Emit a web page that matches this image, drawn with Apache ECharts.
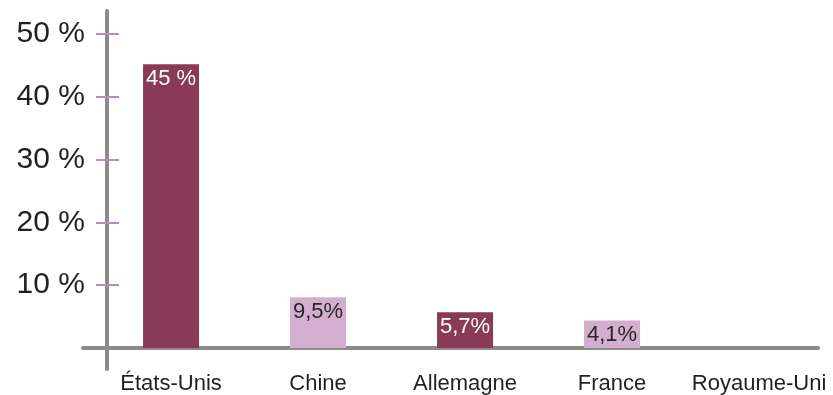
<!DOCTYPE html>
<html>
<head>
<meta charset="utf-8">
<script src="https://cdn.jsdelivr.net/npm/echarts@6/dist/echarts.min.js"></script>
<style>html,body{margin:0;padding:0;background:#fff;}#c{width:833px;height:395px;}</style>
</head>
<body>
<div id="c"></div>
<script>
// Data
const categories = ['États-Unis', 'Chine', 'Allemagne', 'France', 'Royaume-Uni'];
const barHeights = [45.2, 8.1, 5.7, 4.4, null];          // bar heights as drawn (%)
const barLabels = ['45 %', '9,5%', '5,7%', '4,1%', ''];  // printed labels
const barShades = ['dark', 'light', 'dark', 'light', 'light'];
const yTickValues = [10, 20, 30, 40, 50];

const colors = { dark: '#893a56', light: '#d4aecf' };
const labelColors = { dark: '#ffffff', light: '#2a2626' };
const FONT = '"Liberation Sans", Arial, Helvetica, sans-serif';

const chart = echarts.init(document.getElementById('c'), null, { renderer: 'canvas' });

const seriesData = categories.map((c, i) => ({
  value: [i, barHeights[i]],
  itemStyle: { color: colors[barShades[i]] },
  label: { color: labelColors[barShades[i]] }
}));

chart.setOption({
  animation: false,
  grid: { left: 83, right: 15, top: 11, bottom: 26, containLabel: false, outerBoundsMode: 'none' },
  xAxis: {
    type: 'value',
    min: -0.599, max: 4.401,
    splitLine: { show: false },
    axisLine: { show: true, onZero: true, lineStyle: { color: '#8b8b8e', width: 4 } },
    axisTick: { show: false },
    axisLabel: {
      customValues: categories.map((c, i) => i),
      formatter: v => categories[Math.round(v)],
      margin: 4,
      fontFamily: FONT, fontSize: 22, color: '#231f20'
    }
  },
  yAxis: [{
    type: 'value',
    min: -3.34, max: 53.66,
    position: 'left',
    offset: -24,
    splitLine: { show: false },
    axisLine: { show: true, onZero: false, lineStyle: { color: '#8b8b8e', width: 4 } },
    axisTick: { show: false },
    axisLabel: {
      customValues: yTickValues,
      formatter: v => v + ' %',
      margin: 22,
      fontFamily: FONT, fontSize: 30, color: '#231f20'
    }
  }, {
    type: 'value',
    min: -3.34, max: 53.66,
    position: 'left',
    offset: -13,
    splitLine: { show: false },
    axisLine: { show: false, onZero: false },
    axisTick: { show: true, inside: true, length: 23, customValues: yTickValues,
      lineStyle: { color: '#b88dbb', width: 2 } },
    axisLabel: { show: false }
  }],
  series: [{
    type: 'bar',
    yAxisIndex: 0,
    barWidth: 56,
    data: seriesData,
    label: {
      show: true,
      position: 'insideTop',
      distance: 3,
      formatter: p => barLabels[p.dataIndex],
      fontFamily: FONT, fontSize: 22, lineHeight: 24
    }
  }]
});
</script>
</body>
</html>
